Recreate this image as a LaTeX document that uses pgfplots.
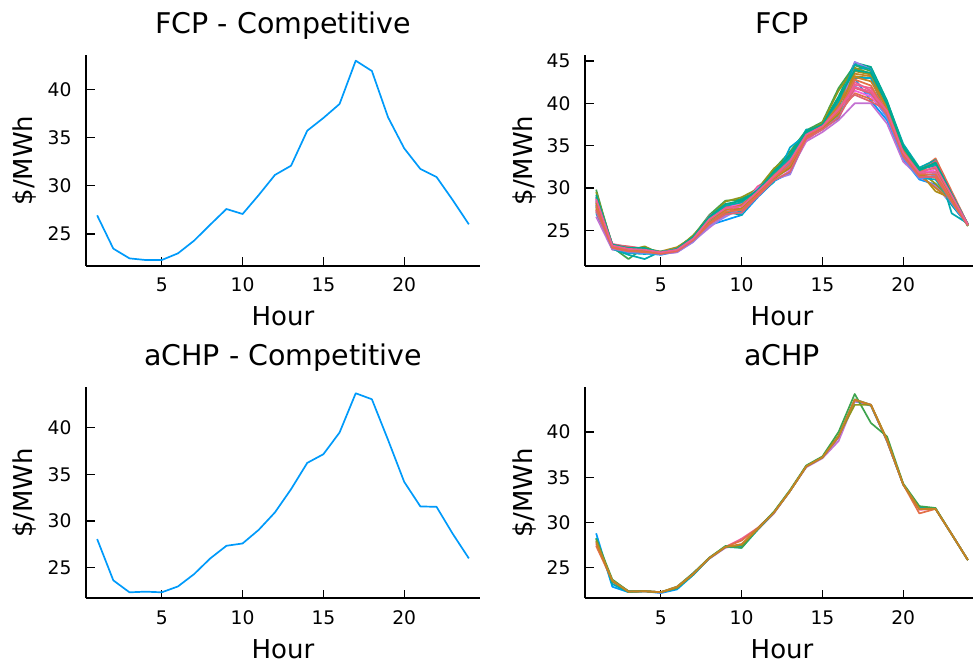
\documentclass[border=0pt]{standalone}
\usepackage{fontspec}
\setmainfont{DejaVu Sans}
\usepackage{pgfplots}
\usepackage{pgfplotstable}
\pgfplotsset{compat=1.18}

\definecolor{c1}{HTML}{009AFA}
\definecolor{c2}{HTML}{E36F47}
\definecolor{c3}{HTML}{3EA44E}
\definecolor{c4}{HTML}{C371D2}
\definecolor{c5}{HTML}{AC8E18}
\definecolor{c6}{HTML}{00AAAE}
\definecolor{c7}{HTML}{ED5E93}
\definecolor{c8}{HTML}{C68225}
\definecolor{c9}{HTML}{00A98D}
\definecolor{c10}{HTML}{8E971D}
\definecolor{c11}{HTML}{00A9CD}
\definecolor{c12}{HTML}{9B7FE9}
\definecolor{c13}{HTML}{618DF6}
\definecolor{c14}{HTML}{F061DD}
\definecolor{c15}{HTML}{DD6470}

% Competitive profiles
\pgfplotstableread{
h fcpc achpc
1 26.93 28.07
2 23.48 23.65
3 22.47 22.37
4 22.30 22.44
5 22.30 22.37
6 22.99 23.00
7 24.31 24.32
8 25.97 26.00
9 27.59 27.35
10 27.07 27.60
11 29.04 29.06
12 31.12 30.92
13 32.08 33.41
14 35.71 36.22
15 37.03 37.15
16 38.48 39.47
17 42.97 43.67
18 41.90 43.03
19 37.10 38.68
20 33.88 34.19
21 31.74 31.56
22 30.91 31.52
23 28.52 28.64
24 26.00 26.00
}\comp

% FCP scenarios
\pgfplotstableread{
h s1 s2 s3 s4 s5 s6 s7 s8 s9 s10 s11 s12 s13 s14 s15 s16 s17 s18 s19 s20 s21 s22 s23
1 27.0 28.5 29.8 26.6 27.5 28.0 28.8 27.2 28.3 29.5 27.8 27.3 28.6 28.1 29.0 28.4 27.7 28.9 27.4 28.2 29.2 27.9 28.7
2 22.9 23.2 23.0 22.7 23.1 22.8 23.4 23.0 23.1 23.3 22.9 22.8 23.1 23.2 23.3 23.1 23.0 23.3 22.9 23.2 23.3 23.0 23.2
3 22.4 22.8 21.6 22.6 22.7 22.1 23.0 22.5 22.3 22.6 22.3 22.5 22.4 22.9 23.1 22.9 22.6 22.8 22.5 22.7 22.9 22.6 22.8
4 22.3 22.9 23.0 22.6 22.8 21.6 22.9 22.6 22.4 23.1 22.2 22.5 22.3 22.7 22.8 22.8 22.5 22.8 22.5 22.6 22.9 22.4 22.7
5 22.1 22.4 22.2 22.3 22.5 22.5 22.3 22.4 22.4 22.2 22.3 22.2 22.2 22.4 22.4 22.3 22.3 22.4 22.2 22.3 22.4 22.3 22.4
6 22.5 22.8 22.9 22.4 23.0 22.6 22.6 22.8 22.7 22.8 22.5 22.4 22.6 22.8 22.7 22.7 22.6 22.8 22.5 22.7 22.8 22.6 22.7
7 23.8 24.1 24.3 23.7 24.2 24.0 23.9 24.2 24.1 24.4 23.9 23.6 23.8 24.0 24.1 24.0 23.9 24.2 23.8 24.1 24.2 23.9 24.0
8 25.6 26.4 26.8 25.3 26.2 26.0 26.7 25.9 26.1 26.5 25.8 25.5 26.0 26.3 26.6 26.2 25.9 26.5 25.7 26.2 26.6 25.8 26.3
9 26.2 27.6 28.5 26.8 28.0 27.2 27.9 27.4 27.6 28.4 27.0 26.6 27.3 27.7 27.8 27.5 27.1 27.9 26.9 27.4 28.1 27.2 27.6
10 26.8 27.3 28.6 27.4 28.2 26.8 28.0 28.4 28.8 28.9 27.2 27.6 27.0 28.1 27.5 27.9 27.6 28.3 27.1 28.0 28.5 27.4 27.8
11 28.9 29.3 29.8 29.1 29.9 29.3 30.2 29.6 29.4 29.9 29.1 29.0 29.2 30.0 29.7 29.6 29.3 29.8 29.0 29.5 29.7 29.2 29.6
12 30.8 31.2 32.2 30.9 31.8 31.5 31.3 31.6 32.0 32.3 30.7 31.0 31.2 31.4 31.7 31.4 31.1 31.7 30.9 31.5 31.9 31.2 31.4
13 31.8 32.5 34.3 32.0 34.0 33.5 32.8 33.2 34.0 33.8 34.8 31.6 33.0 32.2 33.3 32.6 32.4 33.6 31.9 33.1 33.9 32.7 33.2
14 36.0 35.6 36.8 35.5 36.2 36.9 35.8 36.2 36.7 36.5 36.3 35.9 36.4 35.7 36.0 35.9 36.1 36.4 35.8 36.2 36.6 36.0 36.3
15 37.1 37.2 37.8 36.6 37.5 37.0 37.3 37.4 37.6 37.7 37.0 36.9 37.1 37.0 37.3 37.2 37.1 37.4 36.9 37.3 37.5 37.2 37.3
16 38.2 38.8 41.8 38.0 40.5 39.5 39.0 40.0 40.8 41.5 38.6 38.4 38.9 39.2 39.6 39.1 38.7 40.2 38.3 39.8 40.6 39.0 39.3
17 42.9 41.2 44.5 40.0 43.2 44.0 42.5 43.5 44.8 44.2 43.0 44.9 42.0 41.5 41.0 42.2 43.8 44.6 41.8 43.1 43.9 42.8 41.9
18 40.3 40.5 43.8 40.0 43.0 44.2 41.5 43.2 44.3 43.5 43.0 44.0 41.0 40.8 40.2 41.8 43.4 44.0 41.2 42.6 43.6 42.1 41.4
19 38.0 39.5 40.0 37.6 39.8 40.2 39.0 39.5 40.3 39.8 38.5 39.0 38.3 38.8 39.2 39.2 39.3 40.0 38.6 39.4 39.9 38.9 39.1
20 33.4 34.6 35.0 33.1 34.8 35.2 34.5 34.3 34.9 34.7 33.6 33.8 33.5 34.0 34.4 34.3 34.1 34.8 33.7 34.5 34.8 34.0 34.2
21 31.0 32.0 32.2 31.3 31.9 32.4 32.0 31.5 32.3 32.0 31.2 31.4 31.1 31.6 31.8 31.7 31.5 32.1 31.3 31.9 32.1 31.6 31.8
22 30.4 33.5 32.9 30.2 29.6 33.3 31.8 30.0 32.6 30.5 31.0 31.7 31.5 32.2 33.2 31.9 31.2 32.8 31.3 32.4 33.0 31.6 32.5
23 28.0 29.6 28.9 28.2 28.8 27.0 29.2 28.5 28.0 28.6 28.3 28.5 28.2 28.7 29.4 28.8 28.4 29.0 28.4 28.9 29.3 28.5 29.1
24 25.6 25.7 25.5 25.6 25.7 25.8 25.7 25.6 25.7 25.5 25.6 25.7 25.6 25.6 25.7 25.6 25.7 25.7 25.6 25.7 25.7 25.6 25.7
}\fcp

% aCHP scenarios
\pgfplotstableread{
h a1 a2 a3 a4 a5 a6 a7 a8
1 28.8 27.4 28.2 27.9 28.0 28.3 27.6 27.8
2 22.9 23.6 23.7 23.4 23.5 23.2 23.5 23.6
3 22.3 22.4 22.4 22.35 22.35 22.3 22.4 22.35
4 22.4 22.4 22.4 22.4 22.4 22.4 22.4 22.4
5 22.2 22.3 22.3 22.25 22.3 22.3 22.3 22.3
6 22.6 22.8 22.9 22.8 22.8 22.7 22.8 22.9
7 24.2 24.3 24.4 24.4 24.3 24.2 24.3 24.3
8 26.0 26.1 26.1 26.0 26.05 26.05 26.1 26.05
9 27.3 27.3 27.4 27.2 27.3 27.3 27.3 27.3
10 27.4 28.0 27.2 27.6 27.5 27.2 28.2 27.6
11 29.3 29.4 29.3 29.2 29.3 29.2 29.4 29.3
12 31.1 31.1 31.2 31.0 31.1 31.1 31.1 31.1
13 33.5 33.5 33.6 33.5 33.5 33.5 33.5 33.5
14 36.2 36.2 36.3 36.1 36.2 36.2 36.2 36.2
15 37.2 37.2 37.3 37.1 37.2 37.2 37.2 37.2
16 39.4 39.5 40.0 39.0 39.6 39.5 39.4 39.5
17 43.4 43.5 44.2 43.4 43.0 43.6 43.5 43.6
18 42.9 43.0 41.0 43.0 43.0 43.0 43.0 43.0
19 39.0 39.0 39.5 39.0 39.2 39.0 39.0 39.1
20 34.2 34.2 34.3 34.2 34.2 34.2 34.2 34.2
21 31.6 31.0 31.8 31.5 31.5 31.7 31.4 31.5
22 31.5 31.5 31.6 31.5 31.5 31.5 31.5 31.5
23 28.7 28.7 28.7 28.7 28.7 28.7 28.7 28.7
24 25.85 25.85 25.85 25.85 25.85 25.85 25.85 25.85
}\achp

\pgfplotsset{
  panel/.style={
    scale only axis, width=394pt, height=211pt,
    anchor=south west,
    axis x line=bottom, axis y line=left,
    axis line style={-, line width=1.7pt, black},
    tick align=inside, major tick length=8.5pt,
    every tick/.style={line width=1.3pt, black},
    xmin=0.31, xmax=24.69, xtick={5,10,15,20},
    /pgf/number format/assume math mode=true,
    tick label style={font=\fontsize{18.7}{22}\selectfont},
    xticklabel style={anchor=base, inner sep=0pt, yshift=-25.7pt},
    yticklabel style={anchor=east, inner sep=0pt, xshift=-14.3pt},
    title style={at={([yshift=21.8pt]axis description cs:0.5,1)}, anchor=base, yshift=-6pt, font=\fontsize{28.5}{34}\selectfont},
    xlabel style={at={([yshift=-60pt]axis description cs:0.5,0)}, anchor=base, font=\fontsize{26}{31}\selectfont},
    ylabel style={at={([xshift=-53pt]axis description cs:0,0.5)}, anchor=base, font=\fontsize{26}{31}\selectfont},
    xlabel={Hour}, ylabel={\$/MWh},
    every axis plot/.append style={line width=1.7pt, line join=round},
  }
}

\begin{document}
\begin{tikzpicture}
\useasboundingbox (0,0) rectangle (973pt,666pt);

% top left
\begin{axis}[panel, at={(86pt,400pt)}, ymin=21.68, ymax=43.56, ytick={25,30,35,40},
  title={FCP - Competitive}]
\addplot[c1] table[x=h, y=fcpc] {\comp};
\end{axis}

% top right
\begin{axis}[panel, at={(585pt,400pt)}, ymin=20.78, ymax=45.71, ytick={25,30,35,40,45},
  title={FCP}]
\addplot[c1] table[x=h, y=s1] {\fcp};
\addplot[c2] table[x=h, y=s2] {\fcp};
\addplot[c3] table[x=h, y=s3] {\fcp};
\addplot[c4] table[x=h, y=s4] {\fcp};
\addplot[c5] table[x=h, y=s5] {\fcp};
\addplot[c6] table[x=h, y=s6] {\fcp};
\addplot[c7] table[x=h, y=s7] {\fcp};
\addplot[c8] table[x=h, y=s8] {\fcp};
\addplot[c9] table[x=h, y=s9] {\fcp};
\addplot[c10] table[x=h, y=s10] {\fcp};
\addplot[c11] table[x=h, y=s11] {\fcp};
\addplot[c12] table[x=h, y=s12] {\fcp};
\addplot[c13] table[x=h, y=s13] {\fcp};
\addplot[c14] table[x=h, y=s14] {\fcp};
\addplot[c15] table[x=h, y=s15] {\fcp};
\addplot[c7] table[x=h, y=s16] {\fcp};
\addplot[c5] table[x=h, y=s17] {\fcp};
\addplot[c6] table[x=h, y=s18] {\fcp};
\addplot[c15] table[x=h, y=s19] {\fcp};
\addplot[c8] table[x=h, y=s20] {\fcp};
\addplot[c9] table[x=h, y=s21] {\fcp};
\addplot[c2] table[x=h, y=s22] {\fcp};
\addplot[c7] table[x=h, y=s23] {\fcp};
\end{axis}

% bottom left
\begin{axis}[panel, at={(86pt,67.7pt)}, ymin=21.73, ymax=44.31, ytick={25,30,35,40},
  title={aCHP - Competitive}]
\addplot[c1] table[x=h, y=achpc] {\comp};
\end{axis}

% bottom right
\begin{axis}[panel, at={(585pt,67.7pt)}, ymin=21.62, ymax=44.94, ytick={25,30,35,40},
  title={aCHP}]
\addplot[c1] table[x=h, y=a1] {\achp};
\addplot[c7] table[x=h, y=a7] {\achp};
\addplot[c4] table[x=h, y=a4] {\achp};
\addplot[c6] table[x=h, y=a6] {\achp};
\addplot[c2] table[x=h, y=a2] {\achp};
\addplot[c3] table[x=h, y=a3] {\achp};
\addplot[c10] table[x=h, y=a5] {\achp};
\addplot[c8] table[x=h, y=a8] {\achp};
\end{axis}
\end{tikzpicture}
\end{document}
